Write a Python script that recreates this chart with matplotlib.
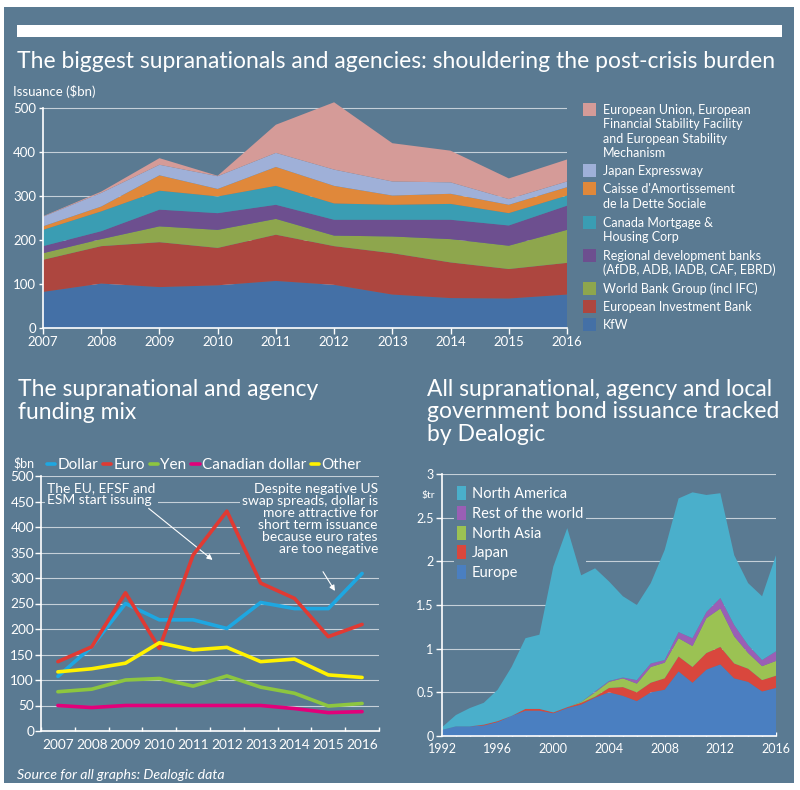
import matplotlib
matplotlib.use("Agg")
import matplotlib.pyplot as plt
from matplotlib.patches import Rectangle
from matplotlib.patches import Patch

plt.rcParams['font.family'] = ['Lato', 'DejaVu Sans']
plt.rcParams['text.color'] = 'white'
plt.rcParams['xtick.color'] = 'white'
plt.rcParams['ytick.color'] = 'white'

BG = '#5a7a92'
GRID = '#c5d0d9'
NARROW = ['Liberation Sans Narrow', 'Lato', 'DejaVu Sans']

# ---- top chart: biggest supranationals and agencies ($bn)
years = [2007, 2008, 2009, 2010, 2011, 2012, 2013, 2014, 2015, 2016]
kfw      = [82, 101, 93, 97, 107, 98, 76, 68, 67, 76]
eib      = [73, 85, 102, 85, 105, 88, 94, 81, 67, 72]
wbg      = [15, 16, 36, 41, 36, 24, 38, 53, 53, 75]
regional = [16, 18, 38, 38, 32, 36, 38, 44, 46, 55]
cmhc     = [37, 45, 43, 38, 43, 37, 34, 36, 28, 23]
cades    = [8, 11, 35, 17, 43, 40, 21, 23, 19, 19]
japan_ex = [22, 31, 24, 29, 32, 37, 32, 26, 13, 13]
eu_efsf  = [1, 3, 15, 1, 64, 153, 87, 72, 47, 50]
top_labels = [
    "KfW",
    "European Investment Bank",
    "World Bank Group (incl IFC)",
    "Regional development banks\n(AfDB, ADB, IADB, CAF, EBRD)",
    "Canada Mortgage &\nHousing Corp",
    "Caisse d'Amortissement\nde la Dette Sociale",
    "Japan Expressway",
    "European Union, European\nFinancial Stability Facility\nand European Stability\nMechanism",
]
top_colors = ['#4470a6', '#ad463f', '#8ea64d', '#6d4f8f',
              '#3a9db3', '#e0883a', '#9fb0d8', '#d59b98']

# ---- bottom-left: funding mix by currency ($bn)
dollar   = [107, 165, 250, 218, 218, 201, 252, 240, 240, 309]
euro     = [136, 165, 271, 162, 345, 431, 290, 260, 185, 209]
yen      = [77, 82, 100, 103, 88, 108, 86, 74, 49, 54]
cad      = [50, 46, 50, 50, 50, 50, 50, 44, 36, 38]
other    = [116, 122, 133, 173, 159, 164, 136, 141, 110, 105]
cur_labels = ["Dollar", "Euro", "Yen", "Canadian dollar", "Other"]
cur_colors = ['#1ea7e1', '#e03a33', '#8dc63f', '#e2007a', '#fff200']

# ---- bottom-right: all SSA & local government issuance ($tr)
years_all = list(range(1992, 2017))
europe    = [0.07, 0.11, 0.11, 0.12, 0.16, 0.23, 0.29, 0.29, 0.26, 0.32, 0.36, 0.44, 0.50,
             0.46, 0.40, 0.50, 0.53, 0.74, 0.61, 0.76, 0.82, 0.66, 0.62, 0.51, 0.55]
japan     = [0.00, 0.00, 0.00, 0.01, 0.01, 0.00, 0.02, 0.02, 0.01, 0.01, 0.02, 0.01, 0.05,
             0.10, 0.10, 0.11, 0.13, 0.17, 0.18, 0.19, 0.20, 0.17, 0.15, 0.13, 0.14]
north_asia = [0, 0, 0, 0, 0, 0, 0, 0, 0, 0, 0.01, 0.05, 0.07,
              0.10, 0.10, 0.18, 0.18, 0.21, 0.24, 0.40, 0.44, 0.31, 0.18, 0.16, 0.17]
rest_world = [0, 0, 0, 0, 0, 0, 0, 0, 0, 0, 0, 0.01, 0.01,
              0.01, 0.04, 0.04, 0.03, 0.07, 0.09, 0.07, 0.12, 0.13, 0.09, 0.07, 0.11]
north_am  = [0.03, 0.13, 0.21, 0.25, 0.36, 0.56, 0.81, 0.85, 1.67, 2.05, 1.45, 1.41, 1.14,
             0.93, 0.86, 0.92, 1.26, 1.53, 1.67, 1.34, 1.20, 0.80, 0.71, 0.73, 1.10]
reg_labels = ["Europe", "Japan", "North Asia", "Rest of the world", "North America"]
reg_colors = ['#4a7fc1', '#d9473d', '#9bc253', '#9a5fb5', '#4aafcb']

W, H = 800, 790


def box(l, t, r, b):
    return [l / W, 1 - b / H, (r - l) / W, (b - t) / H]


def ftext(x, y, s, **kw):
    fig.text(x / W, 1 - y / H, s, **kw)


fig = plt.figure(figsize=(8, 7.9), dpi=100, facecolor='white')
fig.patches.append(Rectangle((4 / W, 1 - 783 / H), 790 / W, 776 / H,
                             transform=fig.transFigure, fc=BG, ec='none', zorder=-10))
fig.patches.append(Rectangle((17 / W, 1 - 37 / H), 765 / W, 12 / H,
                             transform=fig.transFigure, fc='white', ec='none', zorder=-9))

ftext(17, 68, "The biggest supranationals and agencies: shouldering the post-crisis burden",
      fontsize=16.5, va='baseline')

# ================= top chart
ax1 = fig.add_axes(box(43, 99.2, 567, 328))
ax1.set_zorder(1)
ax1.set_facecolor('none')
ax1.stackplot(years, kfw, eib, wbg, regional, cmhc, cades, japan_ex, eu_efsf,
              colors=top_colors, lw=0, zorder=2)
ax1.set_xlim(2007, 2016)
ax1.set_ylim(0, 520)
ax1.set_xticks(years)
ax1.set_yticks(range(0, 501, 100))
ax1.yaxis.grid(True, color=GRID, lw=0.8, zorder=1)
ax1.set_axisbelow(True)
for s in ['top', 'right']:
    ax1.spines[s].set_visible(False)
for s in ['left', 'bottom']:
    ax1.spines[s].set_color('white')
    ax1.spines[s].set_linewidth(1.2)
    ax1.spines[s].set_zorder(3)
ax1.spines['left'].set_bounds(0, 500)
ax1.tick_params(axis='x', length=4, width=1, labelsize=9.5, pad=2)
ax1.tick_params(axis='y', length=3, width=1, labelsize=9.5, pad=2)
ftext(13, 95.5, "Issuance ($bn)", fontsize=9.5, va='baseline')

# manual legend, top entry first
leg_baselines = [329.3, 311, 293.3, 260, 226.7, 193.3, 175, 114.3]
for lab, col, yb in zip(top_labels, top_colors, leg_baselines):
    fig.patches.append(Rectangle((583 / W, 1 - (yb + 2) / H), 13 / W, 13 / H,
                                 transform=fig.transFigure, fc=col, ec='none', zorder=5))
    for i, line in enumerate(lab.split("\n")):
        ftext(603, yb + i * 14.2, line, fontsize=9.0, va='baseline')

# ================= bottom-left chart
ftext(18, 396, "The supranational and agency", fontsize=16.5, va='baseline')
ftext(18, 419.3, "funding mix", fontsize=16.5, va='baseline')

ax2 = fig.add_axes(box(41, 476, 379, 731))
ax2.set_zorder(1)
ax2.set_facecolor('none')
handles = []
for vals, col, lab in zip([dollar, euro, yen, cad, other], cur_colors, cur_labels):
    ln, = ax2.plot(years, vals, color=col, lw=2.6, solid_capstyle='round',
                   solid_joinstyle='round', label=lab, zorder=3)
    handles.append(ln)
ax2.set_xlim(2006.5, 2016.5)
ax2.set_ylim(0, 500)
ax2.set_yticks(range(0, 501, 50))
ax2.set_xticks(years)
ax2.set_xticks([y + 0.5 for y in [2006] + years], minor=True)
ax2.yaxis.grid(True, color=GRID, lw=0.8)
ax2.set_axisbelow(True)
for s in ['top', 'right']:
    ax2.spines[s].set_visible(False)
for s in ['left', 'bottom']:
    ax2.spines[s].set_color('white')
    ax2.spines[s].set_linewidth(1.2)
ax2.tick_params(axis='x', which='major', length=0, labelsize=9.8, pad=6)
ax2.tick_params(axis='x', which='minor', length=3, width=1, direction='in')
ax2.tick_params(axis='y', length=4, width=1, labelsize=9.8, pad=1)

leg = ax2.legend(handles=handles, ncol=5, loc='lower left',
                 bbox_to_anchor=(47 / W, 1 - 472 / H), bbox_transform=fig.transFigure,
                 frameon=False, fontsize=11, handlelength=0.55, handletextpad=0.15,
                 columnspacing=0.3, borderpad=0, borderaxespad=0)
for t in leg.get_texts():
    t.set_color('white')
ftext(13, 467, "$bn", fontsize=9, va='baseline')

ax2.text(2006.68, 487, "The EU, EFSF and\nESM start issuing", ha='left', va='top',
         fontsize=10, family=NARROW, linespacing=0.98, zorder=2.5,
         bbox=dict(fc=BG, ec='none', pad=1.5))
ax2.text(2016.47, 487, "Despite negative US\nswap spreads, dollar is\nmore attractive for\n"
         "short term issuance\nbecause euro rates\nare too negative",
         ha='right', va='top', multialignment='right', fontsize=10, family=NARROW,
         linespacing=1.0, zorder=2.5, bbox=dict(fc=BG, ec='none', pad=1.5))
ax2.annotate('', xy=(2011.64, 332), xytext=(2009.62, 440), zorder=2.6,
             arrowprops=dict(arrowstyle='-|>', color='white', lw=0.8, mutation_scale=8))
ax2.annotate('', xy=(2015.24, 270), xytext=(2014.8, 317), zorder=2.6,
             arrowprops=dict(arrowstyle='-|>', color='white', lw=0.8, mutation_scale=8))

ftext(17, 779, "Source for all graphs: Dealogic data", fontsize=10.2, style='italic',
      va='baseline')

# ================= bottom-right chart
ftext(427, 396, "All supranational, agency and local", fontsize=16.5, va='baseline')
ftext(427, 418.3, "government bond issuance tracked", fontsize=16.5, va='baseline')
ftext(427, 441, "by Dealogic", fontsize=16.5, va='baseline')

ax3 = fig.add_axes(box(442, 474, 776, 736))
ax3.set_zorder(1)
ax3.set_facecolor('none')
ax3.stackplot(years_all, europe, japan, north_asia, rest_world, north_am,
              colors=reg_colors, lw=0, zorder=2)
ax3.set_xlim(1992, 2016)
ax3.set_ylim(0, 3)
ax3.set_yticks([0, 0.5, 1, 1.5, 2, 2.5, 3])
ax3.set_yticklabels(["0", "0.5", "1", "1.5", "2", "2.5", "3"])
ax3.set_xticks(range(1992, 2017, 4))
ax3.set_xticks(years_all, minor=True)
ax3.yaxis.grid(True, color=GRID, lw=0.8)
ax3.set_axisbelow(True)
for s in ['top', 'right']:
    ax3.spines[s].set_visible(False)
for s in ['left', 'bottom']:
    ax3.spines[s].set_color('white')
    ax3.spines[s].set_linewidth(1.2)
    ax3.spines[s].set_zorder(3)
ax3.tick_params(axis='x', which='both', length=3, width=1, direction='in',
                labelsize=9, pad=5)
ax3.tick_params(axis='y', length=4, width=1, labelsize=9, pad=2)
ftext(422, 498, "$tr", fontsize=7.5, va='baseline')

leg3 = ax3.legend([Patch(fc=c, ec='none') for c in reg_colors[::-1]], reg_labels[::-1],
                  loc='upper left', bbox_to_anchor=(0.015, 0.992), fontsize=10.5,
                  frameon=True, facecolor=BG, edgecolor='none', framealpha=1,
                  fancybox=False, handlelength=0.6, handleheight=1.1,
                  handletextpad=0.4, labelspacing=0.32, borderpad=0.2)
leg3.set_zorder(1.5)
for t in leg3.get_texts():
    t.set_color('white')

fig.savefig("out.png", dpi=100, facecolor='white')
